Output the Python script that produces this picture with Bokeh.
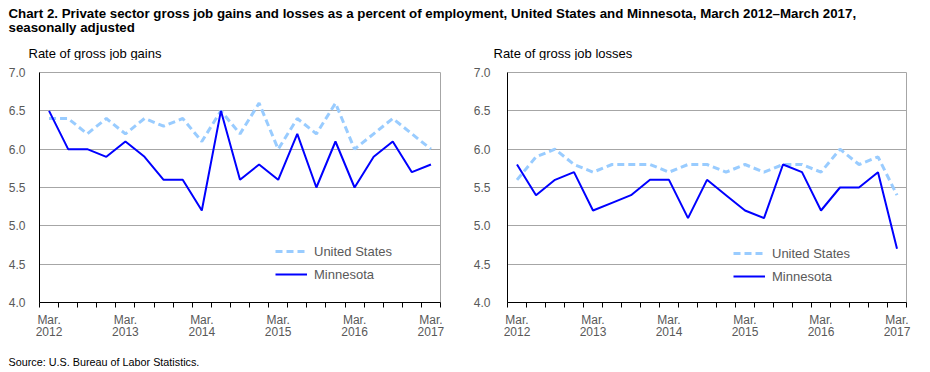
from bokeh.plotting import figure
from bokeh.models import Label, Legend, LegendItem, FixedTicker, Range1d, ColumnDataSource, LinearAxis
from bokeh.layouts import column, row
from bokeh.embed import file_html
from bokeh.resources import INLINE

# ---- data ----
quarters = [
    "Mar. 2012", "Jun. 2012", "Sep. 2012", "Dec. 2012",
    "Mar. 2013", "Jun. 2013", "Sep. 2013", "Dec. 2013",
    "Mar. 2014", "Jun. 2014", "Sep. 2014", "Dec. 2014",
    "Mar. 2015", "Jun. 2015", "Sep. 2015", "Dec. 2015",
    "Mar. 2016", "Jun. 2016", "Sep. 2016", "Dec. 2016",
    "Mar. 2017",
]
us_gains = [6.4, 6.4, 6.2, 6.4, 6.2, 6.4, 6.3, 6.4, 6.1, 6.5, 6.2,
            6.6, 6.0, 6.4, 6.2, 6.6, 6.0, 6.2, 6.4, 6.2, 6.0]
mn_gains = [6.5, 6.0, 6.0, 5.9, 6.1, 5.9, 5.6, 5.6, 5.2, 6.5, 5.6,
            5.8, 5.6, 6.2, 5.5, 6.1, 5.5, 5.9, 6.1, 5.7, 5.8]
us_losses = [5.6, 5.9, 6.0, 5.8, 5.7, 5.8, 5.8, 5.8, 5.7, 5.8, 5.8,
             5.7, 5.8, 5.7, 5.8, 5.8, 5.7, 6.0, 5.8, 5.9, 5.4]
mn_losses = [5.8, 5.4, 5.6, 5.7, 5.2, 5.3, 5.4, 5.6, 5.6, 5.1, 5.6,
             5.4, 5.2, 5.1, 5.8, 5.7, 5.2, 5.5, 5.5, 5.7, 4.7]
y_ticks = [4.0, 4.5, 5.0, 5.5, 6.0, 6.5, 7.0]
series_names = ["United States", "Minnesota"]

title_line1 = ("Chart 2. Private sector gross  job gains and losses  as a percent of employment, "
               "United States and Minnesota, March 2012\u2013March 2017,")
title_line2 = "seasonally adjusted"
panel_titles = ["Rate of gross job gains", "Rate of gross job losses"]
source_text = "Source: U.S. Bureau of Labor Statistics."

FONT = "Liberation Sans"
TXT = "#595959"
GRID = "#a6a6a6"
US_COLOR = "#99ccff"
MN_COLOR = "#0000ff"

# ---- header ----
header = figure(width=922, height=60, output_backend="svg", toolbar_location=None,
                x_axis_type=None, y_axis_type=None, x_range=Range1d(0, 1), y_range=Range1d(0, 1),
                min_border=0)
header.grid.visible = False
header.outline_line_color = None
header.add_layout(Label(x=8, y=47.5, x_units="screen", y_units="screen", text=title_line1,
                        text_font=FONT, text_font_size="13.3px", text_font_style="bold",
                        text_baseline="middle", text_color="black"))
header.add_layout(Label(x=8, y=33, x_units="screen", y_units="screen", text=title_line2,
                        text_font=FONT, text_font_size="13.3px", text_font_style="bold",
                        text_baseline="middle", text_color="black"))
for tx, t in zip([28, 493], panel_titles):
    header.add_layout(Label(x=tx, y=7, x_units="screen", y_units="screen", text=t,
                            text_font=FONT, text_font_size="13px",
                            text_baseline="middle", text_color="black"))


def chart(us, mn, width, bl, br, legend_loc, standoff):
    x = list(range(len(quarters)))
    src = ColumnDataSource(dict(x=x, us=us, mn=mn))
    p = figure(width=width, height=287, output_backend="svg", toolbar_location=None,
               x_range=Range1d(-0.5, len(quarters) - 0.5), y_range=Range1d(4, 7),
               min_border_left=bl, min_border_right=br, min_border_top=12, min_border_bottom=45)
    r_us = p.line("x", "us", source=src, line_color=US_COLOR, line_width=3, line_dash="7 4")
    r_mn = p.line("x", "mn", source=src, line_color=MN_COLOR, line_width=2)

    march = [i for i, q in enumerate(quarters) if q.startswith("Mar.")]
    ticker = FixedTicker(ticks=march, minor_ticks=[i - 0.5 for i in range(len(quarters) + 1)])
    xa = p.xaxis[0]
    xa.ticker = ticker
    xa.major_label_overrides = {i: quarters[i].split(" ")[0] for i in march}
    xa.major_tick_line_color = None
    xa.major_tick_out = 0
    xa.major_tick_in = 0
    xa.minor_tick_line_color = "black"
    xa.minor_tick_in = 0
    xa.minor_tick_out = 5
    xa.major_label_standoff = 5
    xa.axis_line_color = "black"

    ya = LinearAxis(ticker=FixedTicker(ticks=march),
                    major_label_overrides={i: quarters[i].split(" ")[1] for i in march},
                    axis_line_color=None, major_tick_line_color=None, minor_tick_line_color=None,
                    major_tick_out=0, major_tick_in=0, minor_tick_out=0, minor_tick_in=0,
                    major_label_standoff=-3)
    p.add_layout(ya, "below")

    p.yaxis.ticker = FixedTicker(ticks=y_ticks)
    p.yaxis.major_label_overrides = {v: f"{v:.1f}" for v in y_ticks}
    p.yaxis.major_tick_line_color = None
    p.yaxis.minor_tick_line_color = None
    p.yaxis.major_label_standoff = standoff
    p.yaxis.axis_line_color = "black"

    for ax in (xa, ya, p.yaxis[0]):
        ax.major_label_text_font = FONT
        ax.major_label_text_font_size = "12px"
        ax.major_label_text_color = TXT

    p.xgrid.grid_line_color = None
    p.ygrid.ticker = FixedTicker(ticks=y_ticks)
    p.ygrid.grid_line_color = GRID
    p.outline_line_color = GRID

    legend = Legend(items=[LegendItem(label=series_names[0], renderers=[r_us]),
                           LegendItem(label=series_names[1], renderers=[r_mn])],
                    location=legend_loc, padding=0, margin=0, spacing=3,
                    glyph_width=32, glyph_height=20, label_height=20, label_standoff=7,
                    background_fill_alpha=0, border_line_alpha=0,
                    label_text_font=FONT, label_text_font_size="13px", label_text_color=TXT)
    p.add_layout(legend)
    return p


p1 = chart(us_gains, mn_gains, 460, 39, 20, (236, 18), 8)
p2 = chart(us_losses, mn_losses, 462, 47, 16, (226, 16), 11)

footer = figure(width=922, height=20, output_backend="svg", toolbar_location=None,
                x_axis_type=None, y_axis_type=None, x_range=Range1d(0, 1), y_range=Range1d(0, 1),
                min_border=0)
footer.grid.visible = False
footer.outline_line_color = None
footer.add_layout(Label(x=8, y=5.3, x_units="screen", y_units="screen", text=source_text,
                        text_font=FONT, text_font_size="10.8px",
                        text_baseline="middle", text_color="black"))

layout = column(header, row(p1, p2), footer)
open("out.html", "w").write(file_html(layout, INLINE))
